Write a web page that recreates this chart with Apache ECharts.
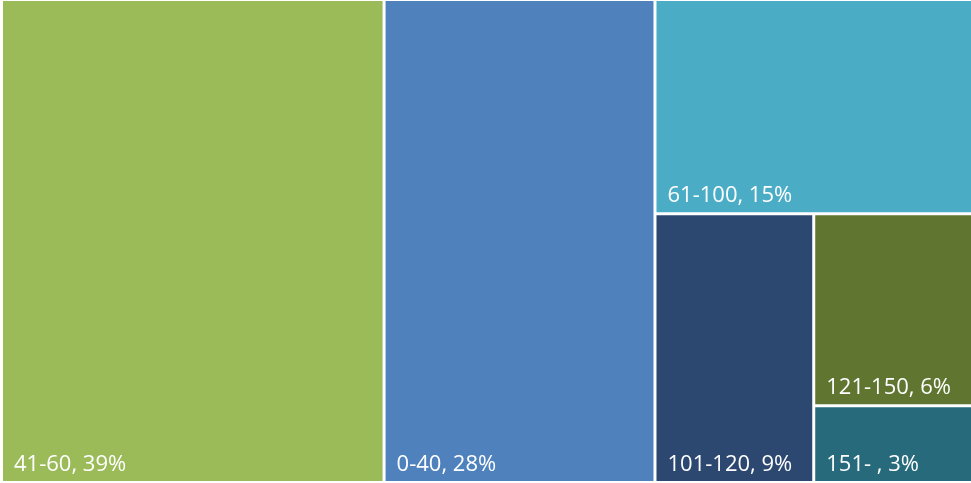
<!DOCTYPE html>
<html>
<head>
<meta charset="utf-8">
<script src="https://cdn.jsdelivr.net/npm/echarts@6/dist/echarts.min.js"></script>
<style>
  html, body { margin: 0; padding: 0; background: #fff; }
  #chart { width: 971px; height: 483px; }
</style>
</head>
<body>
<div id="chart"></div>
<script>
var categories = ['41-60', '0-40', '61-100', '101-120', '121-150', '151- '];
var shares = [39.4, 27.9, 14.5, 9.1, 6.5, 2.6];
var shareLabels = ['39%', '28%', '15%', '9%', '6%', '3%'];
var colors = ['#9bbb59', '#4f81bd', '#4bacc6', '#2c4770', '#5f7530', '#276a7c'];

var data = categories.map(function (name, i) {
    return {
        name: name,
        value: shares[i],
        pct: shareLabels[i],
        itemStyle: { color: colors[i] }
    };
});

var myChart = echarts.init(document.getElementById('chart'));
var option = {
    animation: false,
    series: [
        {
            type: 'treemap',
            left: 3,
            top: 1,
            right: 0,
            bottom: 2,
            roam: false,
            nodeClick: false,
            squareRatio: 1,
            breadcrumb: { show: false },
            label: {
                show: true,
                position: 'insideBottomLeft',
                distance: 0,
                padding: [0, 0, 5, 11],
                formatter: function (p) {
                    return p.name + ', ' + p.data.pct;
                },
                color: '#fff',
                fontFamily: 'Open Sans',
                fontSize: 22
            },
            upperLabel: { show: false },
            itemStyle: {
                borderWidth: 0,
                gapWidth: 3,
                borderColor: '#fff'
            },
            levels: [
                { itemStyle: { borderWidth: 0, gapWidth: 3, borderColor: '#fff' } }
            ],
            data: data
        }
    ]
};
myChart.setOption(option);
</script>
</body>
</html>
